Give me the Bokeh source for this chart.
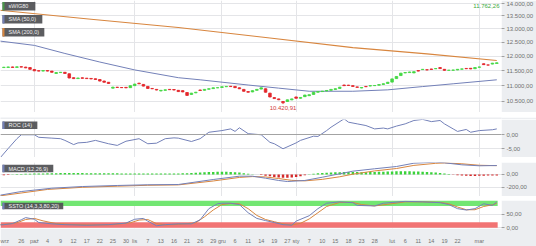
import math
from bokeh.plotting import figure
from bokeh.layouts import column
from bokeh.models import Range1d, FixedTicker, BoxAnnotation, Label, Span, ColumnDataSource, Grid
from bokeh.embed import file_html
from bokeh.resources import INLINE

# ---------------- data (trading-day index 0 = 20 Sep 2018) ----------------
opens = [11600, 11605, 11620, 11605, 11630, 11615, 11600, 11535, 11495, 11480,
         11500, 11480, 11400, 11430, 11440, 11390, 11260, 11230, 11255, 11245,
         11235, 11225, 11200, 11150, 11110, 10920, 10950, 10940, 10945, 10935,
         11000, 11080, 11040, 10975, 10910, 10880, 10830, 10850, 10880, 10875,
         10850, 10840, 10780, 10720, 10770, 10860, 10850, 10885, 10905, 10930,
         10940, 10965, 10980, 10975, 10930, 10880, 10810, 10800, 10850, 10890,
         10900, 10760, 10620, 10580, 10500, 10500, 10550, 10640, 10600, 10650,
         10680, 10720, 10790, 10810, 10830, 10850, 10880, 10910, 11020, 11015,
         11000, 10960, 10925, 10975, 10990, 11000, 11015, 11040, 11070, 11115,
         11230, 11330, 11420, 11430, 11420, 11500, 11530, 11525, 11550, 11560,
         11600, 11540, 11505, 11510, 11520, 11545, 11570, 11575, 11560, 11610,
         11730, 11690, 11720, 11740]
closes = [11610, 11620, 11605, 11625, 11615, 11590, 11540, 11490, 11480, 11500,
          11480, 11440, 11430, 11440, 11400, 11250, 11230, 11250, 11240, 11230,
          11220, 11200, 11150, 11110, 11070, 10950, 10940, 10935, 10930, 11000,
          11050, 11060, 10985, 10910, 10900, 10860, 10850, 10865, 10870, 10860,
          10810, 10800, 10690, 10760, 10790, 10845, 10880, 10900, 10930, 10935,
          10965, 10975, 10970, 10935, 10900, 10820, 10790, 10840, 10880, 10930,
          10790, 10640, 10590, 10555, 10460, 10550, 10580, 10600, 10625, 10700,
          10710, 10790, 10810, 10822, 10845, 10880, 10900, 10950, 11000, 11005,
          10975, 10945, 10940, 10965, 11000, 11005, 11035, 11060, 11110, 11220,
          11300, 11410, 11430, 11450, 11460, 11480, 11540, 11520, 11535, 11565,
          11565, 11505, 11510, 11515, 11540, 11555, 11560, 11555, 11600, 11620,
          11700, 11685, 11750, 11762.26]
highs = [11625, 11630, 11630, 11635, 11640, 11625, 11610, 11545, 11505, 11510,
         11510, 11485, 11440, 11450, 11450, 11400, 11270, 11260, 11265, 11250,
         11240, 11230, 11205, 11160, 11115, 10965, 10960, 10950, 10950, 11010,
         11060, 11090, 11050, 10985, 10920, 10890, 10860, 10875, 10890, 10885,
         10860, 10850, 10790, 10770, 10800, 10870, 10890, 10910, 10940, 10945,
         10975, 10985, 10990, 10985, 10940, 10890, 10820, 10850, 10890, 10940,
         10910, 10770, 10630, 10590, 10510, 10560, 10590, 10650, 10635, 10710,
         10720, 10800, 10820, 10830, 10855, 10890, 10910, 10960, 11030, 11025,
         11010, 10970, 10950, 10985, 11010, 11015, 11045, 11070, 11120, 11230,
         11310, 11420, 11445, 11460, 11470, 11510, 11550, 11535, 11560, 11575,
         11610, 11545, 11520, 11525, 11550, 11565, 11580, 11585, 11610, 11630,
         11740, 11700, 11760, 11775]
lows = [11590, 11595, 11595, 11595, 11605, 11580, 11530, 11480, 11470, 11470,
        11470, 11430, 11390, 11420, 11390, 11240, 11215, 11220, 11230, 11220,
        11210, 11190, 11140, 11100, 11060, 10910, 10930, 10925, 10920, 10925,
        10990, 11050, 10975, 10900, 10890, 10850, 10820, 10840, 10860, 10850,
        10800, 10790, 10680, 10710, 10760, 10835, 10840, 10875, 10895, 10920,
        10930, 10955, 10960, 10925, 10890, 10810, 10780, 10790, 10840, 10880,
        10780, 10630, 10580, 10540, 10420.91, 10490, 10540, 10590, 10590, 10640,
        10670, 10710, 10780, 10800, 10820, 10840, 10870, 10900, 10990, 10995,
        10965, 10935, 10915, 10955, 10980, 10990, 11005, 11030, 11060, 11105,
        11220, 11320, 11410, 11420, 11410, 11470, 11520, 11510, 11525, 11550,
        11555, 11495, 11495, 11500, 11510, 11535, 11550, 11545, 11550, 11600,
        11690, 11670, 11710, 11735]

tick_idx = [0, 4, 7, 10, 13, 16, 19, 22, 25, 28, 30, 33, 36, 39, 42, 45, 48, 50, 53, 56,
            59, 62, 65, 67, 70, 73, 76, 79, 82, 85, 89, 92, 95, 98, 101, 104, 109]
tick_lbl = ["wrz", "26", "paź", "4", "9", "12", "17", "22", "25", "30", "lis", "7", "13", "16",
            "21", "26", "29", "gru", "6", "11", "14", "19", "27", "sty", "7", "10", "15", "18",
            "23", "28", "lut", "6", "11", "14", "19", "22", "mar"]
month_idx = [7, 30, 50, 67, 89, 109]

sma50_idx = [-1, 7, 14, 22, 30, 40, 45, 56, 63, 70, 80, 88, 96, 103, 113]
sma50_val = [12540, 12380, 12090, 11790, 11520, 11260, 11190, 11020, 10920, 10820,
             10820, 10865, 10970, 11060, 11190]
sma200_idx = [-1, 20, 40, 61, 80, 97, 113]
sma200_val = [13730, 13370, 13050, 12650, 12300, 12075, 11845]

roc_idx = [-1, 1, 3, 4, 7, 8, 11, 13, 14, 16, 17, 19, 21, 24, 26, 28, 31, 33, 35, 37,
           39, 40, 43, 45, 47, 50, 52, 53, 54, 56, 59, 61, 62, 64, 67, 68, 71, 72, 74, 75,
           78, 79, 81, 83, 85, 87, 88, 90, 92, 93, 94, 96, 97, 98, 100, 101, 103, 104, 106, 107,
           109, 112, 113]
roc_val = [-8.6, -5.0, -1.5, -0.1, -0.1, -1.0, -1.3, -1.5, -2.1, -3.6,
           -3.0, -2.8, -2.1, -3.3, -3.9, -2.4, -1.5, -3.3, -3.1, -1.5,
           -1.2, -1.3, -2.5, -1.5, 0.8, 1.4, 2.0, 1.1, 2.4, 0.3,
           -0.1, -2.8, -3.3, -5.1, -3.0, -2.1, -0.6, -0.7, 1.4, 2.6,
           5.6, 4.4, 3.8, 3.2, 2.0, 2.3, 2.0, 3.0, 3.8, 4.4,
           5.0, 5.4, 5.0, 4.6, 5.0, 3.8, 2.0, 1.1, 1.8, 0.8,
           1.4, 1.7, 2.0]

macd_idx = [-1, 4, 11, 18, 26, 33, 40, 48, 54, 57, 60, 63, 65, 69, 73, 77, 80, 85, 90, 94,
            99, 101, 105, 109, 113]
macd_val = [-320, -262, -211, -185, -169, -158, -154, -77, -26, -26,
            -57, -92, -108, -92, -42, 11, 51, 88, 123, 174,
            189, 180, 149, 134, 138]
sig_idx = [-1, 10, 18, 26, 33, 40, 48, 54, 57, 60, 63, 66, 69, 73, 77, 80, 85, 90, 94, 99,
           101, 105, 109, 113]
sig_val = [-330, -230, -197, -180, -166, -160, -100, -45, -32, -38,
           -62, -90, -98, -75, -35, 5, 55, 92, 140, 172,
           178, 165, 142, 136]
hist = [-12, -6, 4, 6, 8, 10, 12, 14, 15, 16,
        18, 20, 20, 22, 22, 24, 24, 22, 22, 20,
        20, 20, 20, 18, 18, 18, 18, 16, 16, 16,
        16, 16, 14, 14, 14, 14, 14, 14, 14, 16,
        16, 18, 20, 24, 26, 30, 34, 38, 40, 42,
        42, 42, 40, 36, 30, 20, 10, 4, 0, -6,
        -18, -28, -38, -46, -50, -50, -46, -38, -26, -12,
        4, 12, 18, 24, 28, 32, 34, 36, 38, 40,
        40, 38, 36, 36, 38, 40, 42, 44, 46, 48,
        50, 50, 50, 50, 48, 46, 44, 40, 36, 30,
        24, 16, 8, -2, -10, -16, -20, -22, -22, -20,
        -18, -16, -14, -14]

k_idx = [-1, 0, 2, 4, 5, 7, 8, 11, 14, 19, 24, 28, 30, 32, 33, 35, 37, 40, 43, 45,
         47, 49, 50, 52, 54, 56, 58, 60, 62, 64, 66, 67, 70, 72, 74, 77, 80, 81, 85, 87,
         92, 96, 100, 102, 104, 106, 108, 110, 112, 113]
k_val = [10, 11, 15, 29, 37, 31, 19, 14, 11, 9, 11, 17, 31, 34, 24, 7, 11, 14, 14, 29,
         70, 88, 90, 90, 85, 55, 34, 26, 19, 11, 9, 24, 44, 70, 90, 95, 92, 82, 80, 90,
         97, 95, 92, 85, 70, 65, 70, 88, 82, 95]
d_idx = [-1, 0, 3, 5, 7, 9, 12, 15, 20, 25, 29, 31, 33, 35, 37, 40, 44, 46, 48, 50,
         52, 54, 56, 58, 60, 62, 64, 66, 68, 70, 72, 74, 77, 80, 82, 85, 88, 92, 96, 100,
         102, 104, 106, 108, 110, 112, 113]
d_val = [11, 12, 18, 30, 34, 25, 15, 12, 10, 11, 18, 28, 30, 15, 10, 12, 18, 40, 65, 85,
         89, 88, 70, 45, 30, 22, 14, 10, 16, 32, 55, 78, 93, 93, 85, 80, 86, 95, 95, 93,
         88, 76, 66, 66, 78, 84, 90]

price_ticks = [10500, 11000, 11500, 12000, 12500, 13000, 13500, 14000]
roc_ticks = [-5, 0]
macd_ticks = [-200, 0]
ssto_ticks = [0, 50]

# ---------------- styling ----------------
W, FW = 536, 503
BG = "#eceef1"
GRID = "#e4e5e8"
BLUE = "#7380b8"
ORANGE = "#d8863f"
UP = "#44d844"
DOWN = "#e3262b"
FONT = "Liberation Sans"
AXC = "#707070"


def pl(v):
    s = f"{v:,.2f}"
    return s.replace(",", " ").replace(".", ",").replace(" ", ".")


n = len(closes)
xr = Range1d(-0.763, 114.08)


def xd(px):
    return xr.start + px * (xr.end - xr.start) / FW


def make(h, yr, ticks, log=False, bottom_border=0):
    p = figure(width=W, height=h, x_range=xr, y_range=yr,
               y_axis_type="log" if log else "linear",
               x_axis_location="below" if bottom_border else None,
               y_axis_location="right", output_backend="svg", toolbar_location=None,
               min_border_left=0, min_border_right=W - FW, min_border_top=0,
               min_border_bottom=bottom_border, background_fill_color="white",
               border_fill_color=BG, outline_line_color=None)
    ax = p.yaxis[0]
    ax.ticker = FixedTicker(ticks=ticks)
    ax.major_label_overrides = {t: pl(t) for t in ticks}
    ax.axis_line_color = None
    ax.major_tick_line_color = "#a0a0a0"
    ax.major_tick_out = 3
    ax.major_tick_in = 0
    ax.minor_tick_line_color = None
    ax.major_label_standoff = 2
    ax.major_label_text_font = FONT
    ax.major_label_text_font_size = "6px"
    ax.major_label_text_color = AXC
    p.ygrid.ticker = FixedTicker(ticks=ticks)
    p.ygrid.grid_line_color = GRID
    for g in p.xgrid:
        g.visible = False
    p.add_layout(Grid(dimension=0, ticker=FixedTicker(ticks=month_idx), grid_line_color=GRID))
    return p


def tag(p, text, x_px, y_px, w_px, h_px, stripe, yconv):
    p.add_layout(BoxAnnotation(left=xd(x_px), right=xd(x_px + w_px), top=yconv(y_px),
                               bottom=yconv(y_px + h_px), fill_color="#4e4f52", fill_alpha=0.92,
                               line_color=None))
    p.add_layout(BoxAnnotation(left=xd(x_px), right=xd(x_px + 2), top=yconv(y_px),
                               bottom=yconv(y_px + h_px), fill_color=stripe, fill_alpha=1,
                               line_color=None))
    p.add_layout(Label(x=xd(x_px + 6), y=yconv(y_px + h_px / 2), text=text,
                       text_baseline="middle", text_align="left", text_font=FONT,
                       text_font_size="5.5px", text_color="#f0f0f0"))


# ---------------- main panel ----------------
MAIN_H = 112
MTOP, MBOT = 14124, 10166
main = make(MAIN_H, Range1d(MBOT, MTOP), price_ticks, log=True)


def ym(py):
    lt, lb = math.log(MTOP), math.log(MBOT)
    return math.exp(lt - py / MAIN_H * (lt - lb))


main.line(sma200_idx, sma200_val, line_color=ORANGE, line_width=1.1)
main.line(sma50_idx, sma50_val, line_color=BLUE, line_width=1.0)
cols = [UP if c >= o else DOWN for o, c in zip(opens, closes)]
src = ColumnDataSource(dict(x=list(range(n)), h=highs, l=lows,
                            top=[max(o, c) for o, c in zip(opens, closes)],
                            bot=[min(o, c) for o, c in zip(opens, closes)], color=cols))
main.segment(x0="x", y0="h", x1="x", y1="l", source=src, line_color="color", line_width=0.8)
main.vbar(x="x", top="top", bottom="bot", width=0.6, source=src, fill_color="color",
          line_color="color", line_width=0.8)

tag(main, "sWIG80", 2, 1.5, 33, 8.5, "#4a9a4a", ym)
tag(main, "SMA (50,0)", 2, 14.5, 40, 8.5, BLUE, ym)
tag(main, "SMA (200,0)", 2, 27.5, 42, 8.5, ORANGE, ym)

low_i = lows.index(min(lows))
main.add_layout(Label(x=low_i, y=ym(107.5), text=pl(min(lows)), text_align="center",
                      text_baseline="middle", text_font=FONT, text_font_size="6px",
                      text_color="#d23a3a"))
main.add_layout(Label(x=xd(501), y=ym(5), text=pl(closes[-1]), text_align="right",
                      text_baseline="middle", text_font=FONT, text_font_size="6px",
                      text_color="#3aa83a"))


# ---------------- separators ----------------
def sep(h, b, t):
    p = figure(width=W, height=h, x_range=xr, y_range=Range1d(0, 1), x_axis_location=None,
               y_axis_location=None, output_backend="svg", toolbar_location=None,
               min_border_left=0, min_border_right=W - FW, min_border_top=0, min_border_bottom=0,
               background_fill_color=BG, border_fill_color=BG, outline_line_color=None)
    for g in p.grid:
        g.visible = False
    p.add_layout(BoxAnnotation(left=xd(247), right=xd(257), bottom=b, top=t,
                               fill_color="#b6b9be", fill_alpha=1, line_color=None))
    return p


# ---------------- ROC ----------------
ROC_H = 38
RTOP, RBOT = 5.357, -8.214
roc = make(ROC_H, Range1d(RBOT, RTOP), roc_ticks)
roc.add_layout(Span(location=0, dimension="width", line_color="#a3a3a3", line_width=1))
roc.line(roc_idx, roc_val, line_color=BLUE, line_width=1.0)
tag(roc, "ROC (14)", 2, 2, 35, 7.5, BLUE, lambda py: RTOP - py / ROC_H * (RTOP - RBOT))

# ---------------- MACD ----------------
MACD_H = 34
MTP, MBT = 184.6, -338.5
macd = make(MACD_H, Range1d(MBT, MTP), macd_ticks)
hsrc = ColumnDataSource(dict(x=list(range(n)), top=hist,
                             color=["#3ad23a" if v >= 0 else "#d42a2a" for v in hist]))
macd.vbar(x="x", top="top", bottom=0, width=0.55, source=hsrc, fill_color="color",
          line_color=None)
macd.line(sig_idx, sig_val, line_color=ORANGE, line_width=1.0)
macd.line(macd_idx, macd_val, line_color=BLUE, line_width=1.0)
tag(macd, "MACD (12,26,9)", 2, 2.3, 51, 7.5, BLUE, lambda py: MTP - py / MACD_H * (MTP - MBT))

# ---------------- SSTO ----------------
SS_H = 34
STOP, SBOT = 100, -3.03
ssto = make(SS_H + 12, Range1d(SBOT, STOP), ssto_ticks, bottom_border=12)
ssto.add_layout(BoxAnnotation(left=xr.start, right=n - 1 + 0.2, bottom=80, top=100,
                              fill_color="#72e672", fill_alpha=1, line_color=None, level="underlay"))
ssto.add_layout(BoxAnnotation(left=xr.start, right=n - 1 + 0.2, bottom=0, top=20,
                              fill_color="#f27474", fill_alpha=1, line_color=None, level="underlay"))
ssto.line(d_idx, d_val, line_color=ORANGE, line_width=1.0)
ssto.line(k_idx, k_val, line_color=BLUE, line_width=1.0)
tag(ssto, "SSTO (14,3,3,80,20)", 2, 2.7, 61, 8, BLUE, lambda py: STOP - py / SS_H * (STOP - SBOT))
xa = ssto.xaxis[0]
xa.ticker = FixedTicker(ticks=tick_idx)
xa.major_label_overrides = dict(zip(tick_idx, tick_lbl))
xa.axis_line_color = None
xa.major_tick_line_color = None
xa.minor_tick_line_color = None
xa.major_label_standoff = 3
xa.major_label_text_font = FONT
xa.major_label_text_font_size = "5.5px"
xa.major_label_text_color = AXC

layout = column(main, sep(7, 0.29, 0.57), roc, sep(5, 0.34, 0.74), macd, sep(4, 0.25, 0.75), ssto)

open("out.html", "w").write(file_html(layout, INLINE))
